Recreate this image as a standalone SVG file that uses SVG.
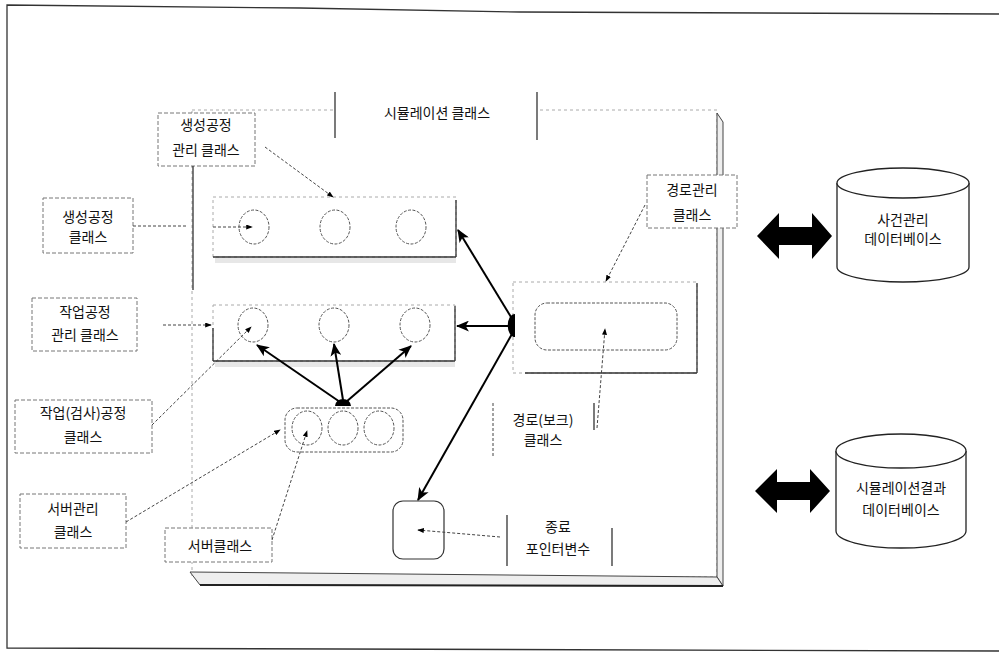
<svg xmlns="http://www.w3.org/2000/svg" width="999" height="653" viewBox="0 0 999 653">
<defs>
<style>
.t{font-family:"Noto Sans CJK KR","Noto Sans",sans-serif;font-size:14px;fill:#111;text-anchor:middle}
.lbl{fill:#fff;stroke:#777;stroke-width:1;stroke-dasharray:4 2}
.c{fill:#fff;stroke:#555;stroke-width:1;stroke-dasharray:3 1.5}
.faint{fill:none;stroke:#aaa;stroke-width:1;stroke-dasharray:3 3}
.solid{fill:none;stroke:#333;stroke-width:1.3}
.thick{fill:none;stroke:#000;stroke-width:2;marker-end:url(#big)}
.thin{fill:none;stroke:#444;stroke-width:1;stroke-dasharray:3 2;marker-end:url(#sm)}
.plain{fill:none;stroke:#444;stroke-width:1;stroke-dasharray:3 2}
.shadow{fill:#ddd;opacity:0.7}
.db{fill:#fff;stroke:#222;stroke-width:1.3}
</style>
<marker id="big" viewBox="0 0 12 10" refX="11" refY="5" markerWidth="13" markerHeight="11" markerUnits="userSpaceOnUse" orient="auto"><path d="M0,0 L12,5 L0,10 L3,5 z" fill="#000"/></marker>
<marker id="sm" viewBox="0 0 8 6" refX="7" refY="3" markerWidth="7" markerHeight="5" markerUnits="userSpaceOnUse" orient="auto"><path d="M0,0 L8,3 L0,6 z" fill="#000"/></marker>
</defs>

<g id="frame">
<polyline points="999,14 520,12 300,8 7,5 7,648 999,651" fill="none" stroke="#333" stroke-width="1.3"/>
</g>

<g id="panel">
<rect x="192" y="110" width="525" height="467" class="faint"/>
<polygon points="717,113 723,122 723,586 717,577" fill="#eee" stroke="#444" stroke-width="1"/>
<polygon points="190,572 717,577 723,586 200,585" fill="#eee" stroke="#444" stroke-width="1"/>
<line x1="200" y1="585" x2="723" y2="586" stroke="#222" stroke-width="2"/>
</g>

<g id="sim-class">
<rect x="335" y="92" width="202" height="46" fill="#fff" stroke="none"/>
<line x1="335" y1="92" x2="335" y2="138" class="solid" stroke="#666"/>
<line x1="537" y1="92" x2="537" y2="140" class="solid"/>
<text x="437" y="118" class="t">시뮬레이션 클래스</text>
</g>

<g id="gen-row">
<rect x="213" y="197" width="243" height="60" class="faint"/>
<rect x="215" y="258" width="241" height="5" class="shadow"/>
<line x1="213" y1="257" x2="456" y2="257" class="solid" stroke-width="2"/>
<line x1="456" y1="200" x2="456" y2="257" class="solid"/>
<ellipse cx="254" cy="227" rx="15" ry="17" class="c"/>
<ellipse cx="335" cy="227" rx="15" ry="17" class="c"/>
<ellipse cx="411" cy="227" rx="15" ry="17" class="c"/>
</g>

<g id="work-row">
<rect x="213" y="305" width="242" height="56" class="faint"/>
<rect x="215" y="362" width="240" height="5" class="shadow"/>
<line x1="213" y1="361" x2="455" y2="361" class="solid" stroke-width="2"/>
<line x1="455" y1="306" x2="455" y2="361" class="solid"/>
<line x1="213" y1="328" x2="213" y2="361" class="solid"/>
<ellipse cx="253" cy="325" rx="15" ry="17" class="c"/>
<ellipse cx="334" cy="325" rx="15" ry="17" class="c"/>
<ellipse cx="415" cy="325" rx="15" ry="17" class="c"/>
</g>

<g id="server-row">
<rect x="285" y="408" width="118" height="44" rx="12" class="c"/>
<ellipse cx="307" cy="428" rx="15" ry="17" class="c"/>
<ellipse cx="343" cy="428" rx="15" ry="17" class="c"/>
<ellipse cx="379" cy="428" rx="15" ry="17" class="c"/>
</g>

<g id="route-row">
<rect x="513" y="282" width="184" height="91" class="faint"/>
<line x1="525" y1="373" x2="697" y2="373" class="solid" stroke-width="1.6"/>
<line x1="697" y1="283" x2="697" y2="373" class="solid" stroke-width="1.6"/>
<rect x="535" y="303" width="142" height="47" rx="12" class="c"/>
</g>

<g id="end-pointer">
<rect x="393" y="501" width="51" height="58" rx="10" fill="#fff" stroke="#333" stroke-width="1.2"/>
</g>

<g id="label-gen-mgr">
<rect x="158" y="113" width="97" height="53" class="lbl"/>
<text x="206" y="130" class="t">생성공정</text>
<text x="206" y="155" class="t">관리 클래스</text>
</g>
<g id="label-gen">
<rect x="43" y="198" width="90" height="55" class="lbl"/>
<text x="88" y="222" class="t">생성공정</text>
<text x="88" y="242" class="t">클래스</text>
</g>
<g id="label-work-mgr">
<rect x="32" y="298" width="105" height="53" class="lbl"/>
<text x="85" y="317" class="t">작업공정</text>
<text x="85" y="340" class="t">관리 클래스</text>
</g>
<g id="label-work">
<rect x="15" y="400" width="137" height="53" class="lbl"/>
<text x="83" y="418" class="t">작업(검사)공정</text>
<text x="83" y="442" class="t">클래스</text>
</g>
<g id="label-server-mgr">
<rect x="20" y="494" width="106" height="54" class="lbl"/>
<text x="73" y="514" class="t">서버관리</text>
<text x="73" y="537" class="t">클래스</text>
</g>
<g id="label-server">
<rect x="165" y="528" width="107" height="34" class="lbl"/>
<text x="220" y="551" class="t">서버클래스</text>
</g>
<g id="label-route-mgr">
<rect x="647" y="175" width="90" height="53" class="lbl"/>
<text x="692" y="195" class="t">경로관리</text>
<text x="692" y="220" class="t">클래스</text>
</g>
<g id="label-route">
<line x1="493" y1="403" x2="493" y2="457" class="plain"/>
<line x1="594" y1="403" x2="594" y2="430" class="solid"/>
<text x="543" y="425" class="t">경로(보크)</text>
<text x="543" y="445" class="t">클래스</text>
</g>
<g id="label-end">
<line x1="507" y1="515" x2="507" y2="566" class="solid" stroke="#555"/>
<line x1="612" y1="528" x2="612" y2="566" class="solid" stroke="#555"/>
<text x="558" y="532" class="t">종료</text>
<text x="558" y="554" class="t">포인터변수</text>
</g>

<g id="db-event">
<path d="M837,183 L837,267 A66,15 0 0 0 969,267 L969,183" class="db"/>
<ellipse cx="903" cy="183" rx="66" ry="15" class="db"/>
<text x="903" y="225" class="t">사건관리</text>
<text x="903" y="244" class="t">데이터베이스</text>
</g>
<g id="db-result">
<path d="M836,451 L836,531 A65,17 0 0 0 966,531 L966,451" class="db"/>
<ellipse cx="901" cy="451" rx="65" ry="17" class="db"/>
<text x="901" y="493" class="t">시뮬레이션결과</text>
<text x="901" y="515" class="t">데이터베이스</text>
</g>

<g id="connectors">
<line x1="193" y1="166" x2="193" y2="290" class="solid" stroke="#555"/>
<line x1="133" y1="226" x2="188" y2="226" class="plain"/>
<line x1="265" y1="147" x2="333" y2="197" class="thin"/>
<line x1="213" y1="227" x2="252" y2="227" class="thin" stroke-dasharray="none" stroke="#000"/>
<line x1="163" y1="325" x2="211" y2="325" class="thin"/>
<line x1="152" y1="425" x2="251" y2="327" class="thin"/>
<line x1="126" y1="522" x2="280" y2="430" class="thin"/>
<line x1="272" y1="540" x2="307" y2="431" class="thin"/>
<line x1="645" y1="205" x2="606" y2="281" class="thin"/>
<line x1="597" y1="428" x2="605" y2="329" class="thin"/>
<line x1="500" y1="537" x2="418" y2="530" class="thin"/>
<path d="M335,406 A8,7 0 0 1 351,406 Z" fill="#000"/>
<line x1="340" y1="402" x2="257" y2="345" class="thick"/>
<line x1="343" y1="400" x2="334" y2="344" class="thick"/>
<line x1="346" y1="402" x2="411" y2="346" class="thick"/>
<path d="M515,314 A7,11 0 0 0 515,337 Z" fill="#000"/>
<line x1="511" y1="317" x2="458" y2="230" class="thick"/>
<line x1="509" y1="326" x2="457" y2="326" class="thick"/>
<line x1="512" y1="334" x2="418" y2="500" class="thick"/>
<polygon points="757,236 779,213 779,227 812,227 812,213 832,236 812,259 812,245 779,245 779,259" fill="#000"/>
<polygon points="755,491 777,469 777,482 810,482 810,469 830,491 810,513 810,500 777,500 777,513" fill="#000"/>
</g>
</svg>
